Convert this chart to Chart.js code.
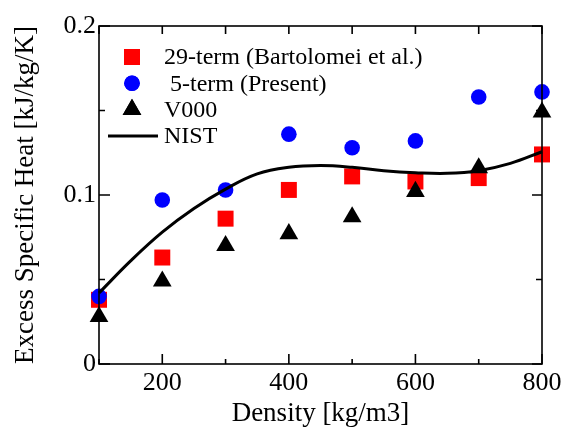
<!DOCTYPE html>
<html>
<head>
<meta charset="utf-8">
<script src="https://cdn.jsdelivr.net/npm/chart.js@4"></script>
<style>
  body { margin: 0; background: #fff; }
</style>
</head>
<body>
<canvas id="myChart" width="567" height="435"></canvas>
<script>
const density = [100, 200, 300, 400, 500, 600, 700, 800];
const bartolomei29 = [0.038, 0.063, 0.086, 0.103, 0.111, 0.108, 0.110, 0.124];
const present5 = [0.040, 0.097, 0.103, 0.136, 0.128, 0.132, 0.158, 0.161];
const v000 = [0.028, 0.049, 0.070, 0.077, 0.087, 0.102, 0.116, 0.149];

const nistDensity = [100, 150, 200, 250, 300, 350, 400, 450, 500, 550, 600, 650, 700, 750, 800];
const nistHeat = [0.042, 0.061, 0.078, 0.092, 0.1035, 0.1125, 0.1164, 0.1174, 0.1164, 0.1144, 0.1132, 0.1128, 0.1144, 0.1187, 0.1256];

const xTicks = [100, 200, 300, 400, 500, 600, 700, 800];
const xLabels = [200, 400, 600, 800];
const yTicks = [0, 0.05, 0.1, 0.15, 0.2];
const yLabels = [0, 0.1, 0.2];

const serif = "'Liberation Serif', 'Times New Roman', serif";

function toPoints(xs, ys) {
  return xs.map((x, i) => ({ x: x, y: ys[i] }));
}

// frame with inward ticks on all four sides
const framePlugin = {
  id: 'frame',
  afterDatasetsDraw(chart) {
    const ctx = chart.ctx;
    const a = chart.chartArea;
    const xs = chart.scales.x;
    const ys = chart.scales.y;
    ctx.save();
    ctx.strokeStyle = '#000';
    ctx.lineWidth = 1.6;
    ctx.strokeRect(a.left, a.top, a.right - a.left, a.bottom - a.top);
    ctx.beginPath();
    xTicks.forEach(v => {
      const px = xs.getPixelForValue(v);
      const major = xLabels.includes(v);
      ctx.moveTo(px, a.bottom);
      ctx.lineTo(px, a.bottom - (major ? 10 : 5));
      ctx.moveTo(px, a.top);
      ctx.lineTo(px, a.top + 8);
    });
    yTicks.forEach(v => {
      const py = ys.getPixelForValue(v);
      const major = yLabels.includes(v);
      ctx.moveTo(a.left, py);
      ctx.lineTo(a.left + (major ? 11 : 6), py);
      ctx.moveTo(a.right, py);
      ctx.lineTo(a.right - (major ? 10 : 6), py);
    });
    ctx.stroke();
    ctx.restore();
  }
};

// legend drawn inside the plot, top-left
const legendPlugin = {
  id: 'insideLegend',
  afterDraw(chart) {
    const ctx = chart.ctx;
    const a = chart.chartArea;
    const mx = a.left + 33;
    const tx = a.left + 65;
    ctx.save();
    ctx.font = '24px ' + serif;
    ctx.textBaseline = 'middle';
    chart.data.datasets.forEach((ds, i) => {
      const y = a.top + 31 + i * 26.3;
      if (ds.showLine) {
        ctx.strokeStyle = ds.borderColor;
        ctx.lineWidth = ds.borderWidth;
        ctx.beginPath();
        ctx.moveTo(a.left + 9, y);
        ctx.lineTo(a.left + 59, y);
        ctx.stroke();
      } else {
        ctx.fillStyle = ds.pointBackgroundColor;
        Chart.helpers.drawPoint(ctx, {
          pointStyle: ds.pointStyle,
          radius: ds.pointRadius,
          borderWidth: 0,
          rotation: 0
        }, mx, y);
        ctx.fill();
      }
      ctx.fillStyle = '#000';
      ctx.fillText(ds.label, tx, y + 1);
    });
    ctx.restore();
  }
};

new Chart(document.getElementById('myChart'), {
  type: 'scatter',
  data: {
    datasets: [{
      label: '29-term (Bartolomei et al.)',
      data: toPoints(density, bartolomei29),
      pointStyle: 'rect',
      pointRadius: 11.3,
      pointBackgroundColor: '#ff0000',
      pointBorderWidth: 0,
      borderColor: '#ff0000',
      showLine: false,
      clip: false,
      order: 3
    }, {
      label: ' 5-term (Present)',
      data: toPoints(density, present5),
      pointStyle: 'circle',
      pointRadius: 7.8,
      pointBackgroundColor: '#0000ff',
      pointBorderWidth: 0,
      borderColor: '#0000ff',
      showLine: false,
      clip: false,
      order: 1
    }, {
      label: 'V000',
      data: toPoints(density, v000),
      pointStyle: 'triangle',
      pointRadius: 10.8,
      pointBackgroundColor: '#000',
      pointBorderWidth: 0,
      borderColor: '#000',
      showLine: false,
      clip: false,
      order: 2
    }, {
      label: 'NIST',
      data: toPoints(nistDensity, nistHeat),
      showLine: true,
      borderColor: '#000',
      borderWidth: 3,
      pointRadius: 0,
      tension: 0.4,
      clip: false,
      order: 0
    }]
  },
  options: {
    responsive: false,
    animation: false,
    layout: { padding: { top: 26, right: 25, left: 0, bottom: 0 } },
    plugins: {
      legend: { display: false },
      tooltip: { enabled: false }
    },
    scales: {
      x: {
        type: 'linear',
        min: 100,
        max: 800,
        afterBuildTicks: s => { s.ticks = xTicks.map(v => ({ value: v })); },
        afterFit: s => { s.height = 71; },
        grid: { display: false, drawTicks: false },
        border: { display: false },
        ticks: {
          color: '#000',
          padding: 4,
          maxRotation: 0,
          autoSkip: false,
          font: { family: serif, size: 26 },
          callback: v => xLabels.includes(v) ? String(v) : ''
        },
        title: {
          display: true,
          text: 'Density [kg/m3]',
          color: '#000',
          font: { family: serif, size: 27 },
          padding: { top: 0, bottom: 5 }
        }
      },
      y: {
        min: 0,
        max: 0.2,
        afterBuildTicks: s => { s.ticks = yTicks.map(v => ({ value: v })); },
        afterFit: s => { s.width = 99; },
        grid: { display: false, drawTicks: false },
        border: { display: false },
        ticks: {
          color: '#000',
          padding: 3,
          autoSkip: false,
          font: { family: serif, size: 26 },
          callback: v => yLabels.includes(v) ? String(v) : ''
        },
        title: {
          display: true,
          text: 'Excess Specific Heat [kJ/kg/K]',
          color: '#000',
          font: { family: serif, size: 27 },
          padding: { top: 10, bottom: 0 }
        }
      }
    }
  },
  plugins: [framePlugin, legendPlugin]
});
</script>
</body>
</html>
